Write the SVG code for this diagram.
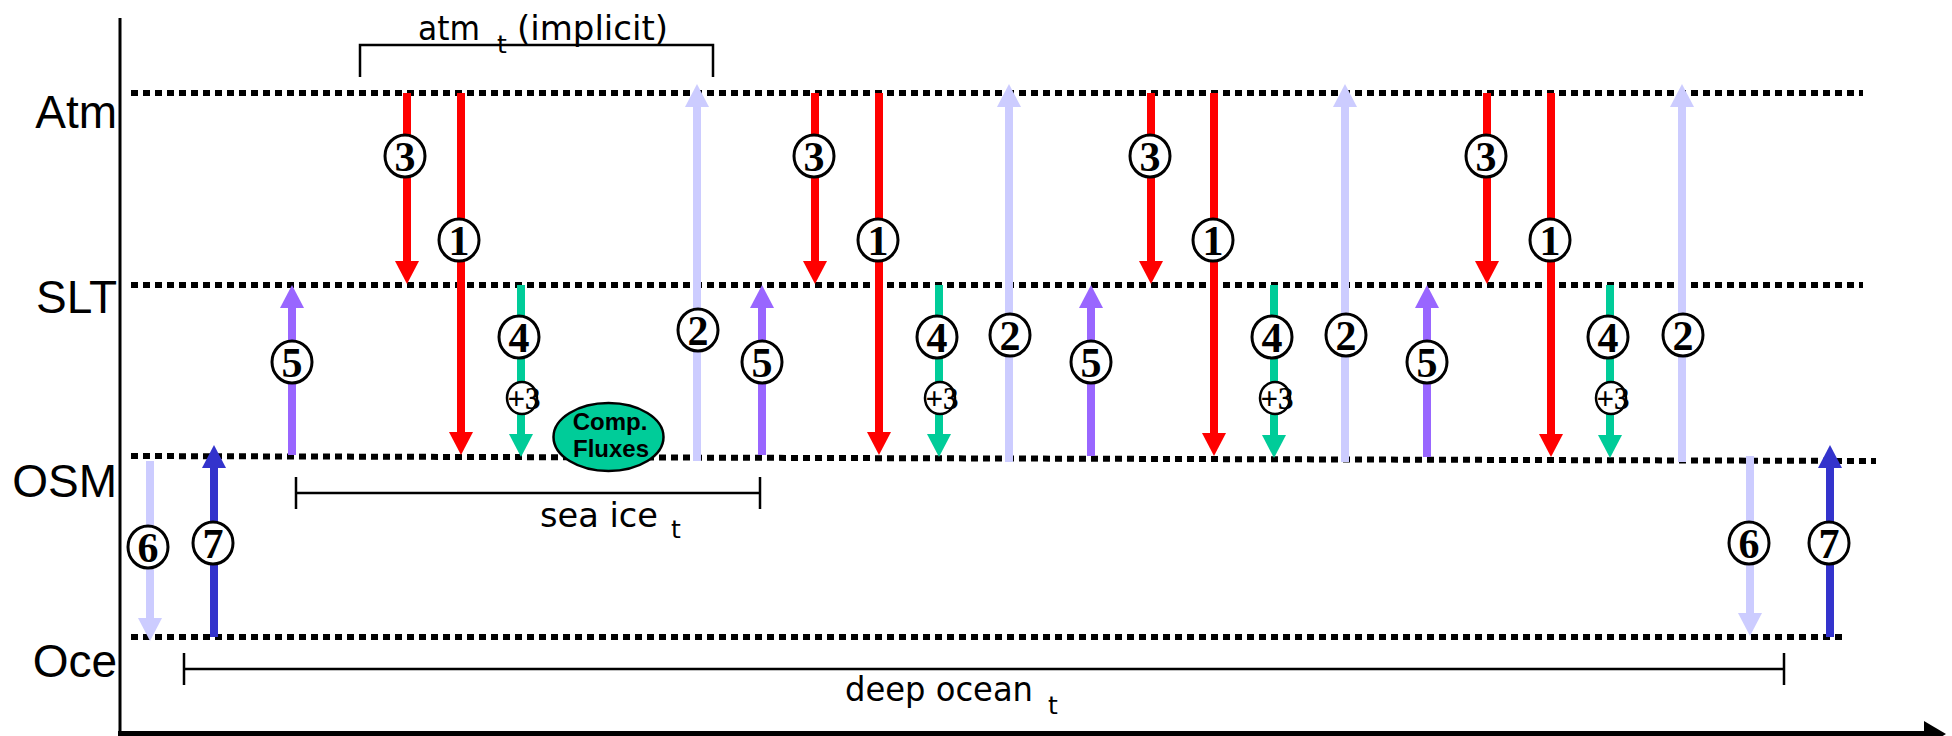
<svg xmlns="http://www.w3.org/2000/svg" width="1952" height="736" viewBox="0 0 1952 736">
<defs>
<marker id="hR" markerUnits="userSpaceOnUse" markerWidth="24" markerHeight="24" viewBox="0 0 23 24" refX="1" refY="12" orient="auto"><path d="M0,0 L23,12 L0,24 z" fill="#FF0000"/></marker>
<marker id="hG" markerUnits="userSpaceOnUse" markerWidth="24" markerHeight="24" viewBox="0 0 23 24" refX="1" refY="12" orient="auto"><path d="M0,0 L23,12 L0,24 z" fill="#00CC99"/></marker>
<marker id="hL" markerUnits="userSpaceOnUse" markerWidth="24" markerHeight="24" viewBox="0 0 23 24" refX="1" refY="12" orient="auto"><path d="M0,0 L23,12 L0,24 z" fill="#CCCCFF"/></marker>
<marker id="hP" markerUnits="userSpaceOnUse" markerWidth="24" markerHeight="24" viewBox="0 0 23 24" refX="1" refY="12" orient="auto"><path d="M0,0 L23,12 L0,24 z" fill="#9966FF"/></marker>
<marker id="hB" markerUnits="userSpaceOnUse" markerWidth="24" markerHeight="24" viewBox="0 0 23 24" refX="1" refY="12" orient="auto"><path d="M0,0 L23,12 L0,24 z" fill="#3333CC"/></marker>
</defs>
<style>
.lvl{stroke:#000;stroke-width:6;stroke-dasharray:7 5;fill:none}
.lab{font-family:"Liberation Sans",Arial,sans-serif;font-size:46px;text-anchor:end;fill:#000}
.sh{stroke-width:8;fill:none}
.r{stroke:#FF0000;marker-end:url(#hR)}
.g{stroke:#00CC99;marker-end:url(#hG)}
.l{stroke:#CCCCFF;marker-end:url(#hL)}
.p{stroke:#9966FF;marker-end:url(#hP)}
.b{stroke:#3333CC;marker-end:url(#hB)}
.c{fill:#fff;stroke:#000;stroke-width:3}
.cs{fill:#fff;stroke:#000;stroke-width:2.5}
.n{font-family:"Liberation Serif","Times New Roman",serif;font-weight:bold;font-size:42px;text-anchor:middle;fill:#000}
.ns{font-family:"Liberation Serif","Times New Roman",serif;font-weight:bold;font-size:31px;text-anchor:middle;fill:#000}
.hand{font-family:"DejaVu Sans",sans-serif;font-size:34px;fill:#000}
.sub{font-size:25px}
.br{stroke:#000;stroke-width:2.5;fill:none}
.ax{stroke:#000;fill:none}
.cf{font-family:"Liberation Sans",Arial,sans-serif;font-weight:bold;font-size:24px;text-anchor:middle;fill:#000}
</style>

<g id="axes">
<line class="ax" x1="120" y1="18" x2="120" y2="736" stroke-width="3"/>
<line class="ax" x1="118" y1="734" x2="1926" y2="734" stroke-width="6"/>
<polygon points="1924,721 1946,734 1924,747" fill="#000"/>
</g>

<g id="layer-atm">
<line class="lvl" x1="131" y1="93" x2="1863" y2="93"/>
<text class="lab" x="117" y="128">Atm</text>
</g>
<g id="layer-slt">
<line class="lvl" x1="131" y1="285" x2="1863" y2="285"/>
<text class="lab" x="117" y="313">SLT</text>
</g>
<g id="layer-osm">
<line class="lvl" x1="131" y1="456" x2="1876" y2="461"/>
<text class="lab" x="117" y="497">OSM</text>
</g>
<g id="layer-oce">
<line class="lvl" x1="131" y1="637" x2="1847" y2="637"/>
<text class="lab" x="117" y="677">Oce</text>
</g>

<g id="bracket-atm">
<path class="br" d="M360,77 V45 H713 V77"/>
<text class="hand" y="40"><tspan x="418" textLength="62" lengthAdjust="spacingAndGlyphs">atm</tspan> <tspan class="sub" x="497" y="53">t</tspan> <tspan x="517" y="40" textLength="151" lengthAdjust="spacingAndGlyphs">(implicit)</tspan></text>
</g>
<g id="bracket-seaice">
<path class="br" d="M296,477 V509 M296,493 H760 M760,477 V509"/>
<text class="hand" y="527"><tspan x="540" textLength="118" lengthAdjust="spacingAndGlyphs">sea ice</tspan> <tspan class="sub" x="671" y="538">t</tspan></text>
</g>
<g id="bracket-deepocean">
<path class="br" d="M184,653 V685 M184,669 H1784 M1784,653 V685"/>
<text class="hand" y="701"><tspan x="845" textLength="188" lengthAdjust="spacingAndGlyphs">deep ocean</tspan> <tspan class="sub" x="1048" y="714">t</tspan></text>
</g>

<g id="comp-fluxes">
<ellipse cx="608.5" cy="437" rx="55" ry="34" fill="#00CC99" stroke="#000" stroke-width="2.5"/>
<text class="cf" x="610" y="430">Comp.</text>
<text class="cf" x="611" y="457">Fluxes</text>
</g>

<g id="connectors">
<line class="sh p" x1="292" y1="455" x2="292" y2="307"/>
<line class="sh r" x1="407" y1="93" x2="407" y2="262"/>
<line class="sh r" x1="461" y1="93" x2="461" y2="433"/>
<line class="sh g" x1="521" y1="285" x2="521" y2="435"/>
<line class="sh l" x1="697" y1="461" x2="697" y2="106"/>
<line class="sh p" x1="762" y1="455" x2="762" y2="307"/>

<line class="sh r" x1="815" y1="93" x2="815" y2="262"/>
<line class="sh r" x1="879" y1="93" x2="879" y2="433"/>
<line class="sh g" x1="939" y1="285" x2="939" y2="435"/>
<line class="sh l" x1="1009" y1="462" x2="1009" y2="106"/>
<line class="sh p" x1="1091" y1="456" x2="1091" y2="307"/>

<line class="sh r" x1="1151" y1="93" x2="1151" y2="262"/>
<line class="sh r" x1="1214" y1="93" x2="1214" y2="434"/>
<line class="sh g" x1="1274" y1="285" x2="1274" y2="436"/>
<line class="sh l" x1="1345" y1="462" x2="1345" y2="106"/>
<line class="sh p" x1="1427" y1="457" x2="1427" y2="307"/>

<line class="sh r" x1="1487" y1="93" x2="1487" y2="262"/>
<line class="sh r" x1="1551" y1="93" x2="1551" y2="435"/>
<line class="sh g" x1="1610" y1="285" x2="1610" y2="436"/>
<line class="sh l" x1="1682" y1="462" x2="1682" y2="106"/>

<line class="sh l" x1="150" y1="461" x2="150" y2="619"/>
<line class="sh b" x1="214" y1="637" x2="214" y2="467"/>
<line class="sh l" x1="1750" y1="456" x2="1750" y2="614"/>
<line class="sh b" x1="1830" y1="637" x2="1830" y2="467"/>
</g>

<g id="labels">
<g id="lbl-5a"><ellipse class="c" cx="292" cy="362" rx="20" ry="21"/><text class="n" x="292" y="377">5</text></g>
<g id="lbl-3a"><ellipse class="c" cx="405" cy="156" rx="20" ry="21"/><text class="n" x="405" y="171">3</text></g>
<g id="lbl-1a"><ellipse class="c" cx="459" cy="240" rx="20" ry="21"/><text class="n" x="459" y="255">1</text></g>
<g id="lbl-4a"><ellipse class="c" cx="519" cy="337" rx="20" ry="21"/><text class="n" x="519" y="352">4</text></g>
<g id="lbl-p3a"><ellipse class="cs" cx="522" cy="398" rx="15" ry="16"/><text class="ns" x="524" y="409">+3</text></g>
<g id="lbl-2a"><ellipse class="c" cx="698" cy="330" rx="20" ry="21"/><text class="n" x="698" y="345">2</text></g>
<g id="lbl-5b"><ellipse class="c" cx="762" cy="362" rx="20" ry="21"/><text class="n" x="762" y="377">5</text></g>

<g id="lbl-3b"><ellipse class="c" cx="814" cy="156" rx="20" ry="21"/><text class="n" x="814" y="171">3</text></g>
<g id="lbl-1b"><ellipse class="c" cx="878" cy="240" rx="20" ry="21"/><text class="n" x="878" y="255">1</text></g>
<g id="lbl-4b"><ellipse class="c" cx="937" cy="337" rx="20" ry="21"/><text class="n" x="937" y="352">4</text></g>
<g id="lbl-p3b"><ellipse class="cs" cx="940" cy="398" rx="15" ry="16"/><text class="ns" x="942" y="409">+3</text></g>
<g id="lbl-2b"><ellipse class="c" cx="1010" cy="335" rx="20" ry="21"/><text class="n" x="1010" y="350">2</text></g>
<g id="lbl-5c"><ellipse class="c" cx="1091" cy="362" rx="20" ry="21"/><text class="n" x="1091" y="377">5</text></g>

<g id="lbl-3c"><ellipse class="c" cx="1150" cy="156" rx="20" ry="21"/><text class="n" x="1150" y="171">3</text></g>
<g id="lbl-1c"><ellipse class="c" cx="1213" cy="240" rx="20" ry="21"/><text class="n" x="1213" y="255">1</text></g>
<g id="lbl-4c"><ellipse class="c" cx="1272" cy="337" rx="20" ry="21"/><text class="n" x="1272" y="352">4</text></g>
<g id="lbl-p3c"><ellipse class="cs" cx="1275" cy="398" rx="15" ry="16"/><text class="ns" x="1277" y="409">+3</text></g>
<g id="lbl-2c"><ellipse class="c" cx="1346" cy="335" rx="20" ry="21"/><text class="n" x="1346" y="350">2</text></g>
<g id="lbl-5d"><ellipse class="c" cx="1427" cy="362" rx="20" ry="21"/><text class="n" x="1427" y="377">5</text></g>

<g id="lbl-3d"><ellipse class="c" cx="1486" cy="156" rx="20" ry="21"/><text class="n" x="1486" y="171">3</text></g>
<g id="lbl-1d"><ellipse class="c" cx="1550" cy="240" rx="20" ry="21"/><text class="n" x="1550" y="255">1</text></g>
<g id="lbl-4d"><ellipse class="c" cx="1608" cy="337" rx="20" ry="21"/><text class="n" x="1608" y="352">4</text></g>
<g id="lbl-p3d"><ellipse class="cs" cx="1611" cy="398" rx="15" ry="16"/><text class="ns" x="1613" y="409">+3</text></g>
<g id="lbl-2d"><ellipse class="c" cx="1683" cy="335" rx="20" ry="21"/><text class="n" x="1683" y="350">2</text></g>

<g id="lbl-6a"><ellipse class="c" cx="148" cy="547" rx="20" ry="21"/><text class="n" x="148" y="562">6</text></g>
<g id="lbl-7a"><ellipse class="c" cx="213" cy="543" rx="20" ry="21"/><text class="n" x="213" y="558">7</text></g>
<g id="lbl-6b"><ellipse class="c" cx="1749" cy="543" rx="20" ry="21"/><text class="n" x="1749" y="558">6</text></g>
<g id="lbl-7b"><ellipse class="c" cx="1829" cy="543" rx="20" ry="21"/><text class="n" x="1829" y="558">7</text></g>
</g>
</svg>
